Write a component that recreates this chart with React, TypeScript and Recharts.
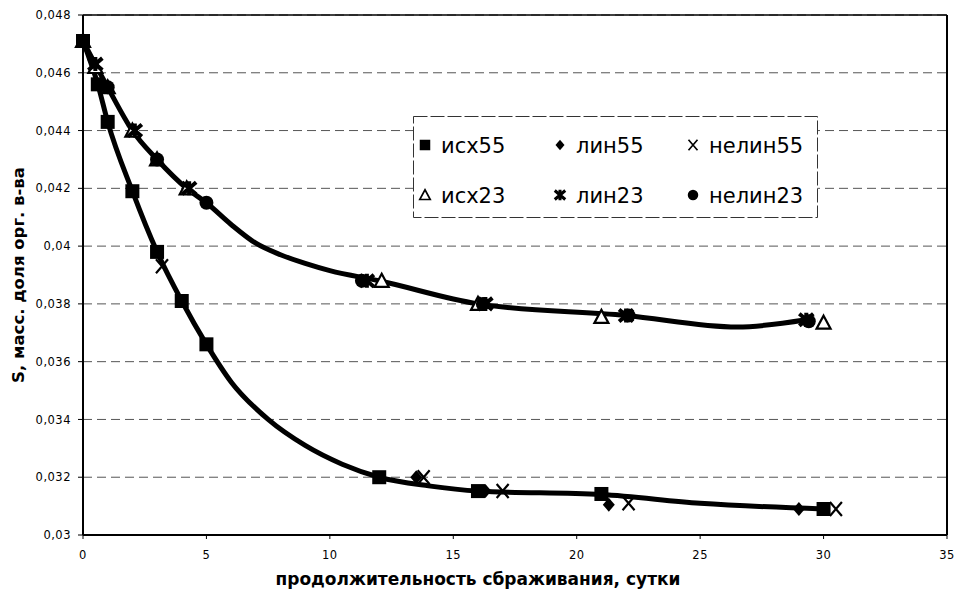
import { CartesianGrid, ComposedChart, Label, Legend, Line, ReferenceLine, Scatter, XAxis, YAxis } from 'recharts'

// исходные данные и расчётные точки
const iskh55 = [
  { x: 0, y: 0.0471 }, { x: 0.6, y: 0.0456 }, { x: 1.0, y: 0.0443 }, { x: 2.0, y: 0.0419 },
  { x: 3.0, y: 0.0398 }, { x: 4.0, y: 0.0381 }, { x: 5.0, y: 0.0366 }, { x: 12.0, y: 0.0320 },
  { x: 16.0, y: 0.03152 }, { x: 21.0, y: 0.03142 }, { x: 30.0, y: 0.0309 },
]
const lin55 = [
  { x: 13.5, y: 0.0320 }, { x: 16.3, y: 0.03152 }, { x: 21.3, y: 0.03105 }, { x: 29.0, y: 0.0309 },
]
const nelin55 = [
  { x: 3.2, y: 0.0393 }, { x: 13.8, y: 0.0320 }, { x: 17.0, y: 0.03152 }, { x: 22.1, y: 0.0311 }, { x: 30.5, y: 0.0309 },
]
const iskh23 = [
  { x: 0, y: 0.0471 }, { x: 0.5, y: 0.0462 }, { x: 1.0, y: 0.0455 }, { x: 2.0, y: 0.0440 },
  { x: 3.0, y: 0.0430 }, { x: 4.2, y: 0.0420 }, { x: 12.1, y: 0.0388 }, { x: 16.0, y: 0.0380 },
  { x: 21.0, y: 0.03755 }, { x: 30.0, y: 0.03735 },
]
const lin23 = [
  { x: 0.5, y: 0.0463 }, { x: 2.1, y: 0.0440 }, { x: 4.3, y: 0.0420 }, { x: 11.5, y: 0.0388 },
  { x: 16.3, y: 0.0380 }, { x: 22.0, y: 0.0376 }, { x: 29.3, y: 0.03745 },
]
const nelin23 = [
  { x: 1.0, y: 0.0455 }, { x: 3.0, y: 0.0430 }, { x: 5.0, y: 0.0415 }, { x: 11.3, y: 0.0388 },
  { x: 16.2, y: 0.0380 }, { x: 22.1, y: 0.0376 }, { x: 29.4, y: 0.0374 },
]

// сглаженные кривые
const curve55 = [
  { x: 0, y: 0.0471 }, { x: 0.6, y: 0.0456 }, { x: 1.0, y: 0.0443 }, { x: 2.0, y: 0.0419 },
  { x: 3.0, y: 0.0398 }, { x: 4.0, y: 0.0381 }, { x: 5.0, y: 0.0366 }, { x: 6.0, y: 0.0353 },
  { x: 7.5, y: 0.0340 }, { x: 9.0, y: 0.0331 }, { x: 10.5, y: 0.03245 }, { x: 12.0, y: 0.0320 },
  { x: 14.0, y: 0.0317 }, { x: 16.0, y: 0.03152 }, { x: 21.0, y: 0.0314 }, { x: 25.0, y: 0.0311 },
  { x: 30.0, y: 0.0309 },
]
const curve23 = [
  { x: 0, y: 0.0471 }, { x: 1.0, y: 0.0455 }, { x: 2.0, y: 0.0440 }, { x: 3.0, y: 0.0430 },
  { x: 4.2, y: 0.0420 }, { x: 5.0, y: 0.0415 }, { x: 6.0, y: 0.04075 }, { x: 7.0, y: 0.0401 },
  { x: 8.0, y: 0.0397 }, { x: 9.0, y: 0.0394 }, { x: 10.0, y: 0.03915 }, { x: 12.0, y: 0.0388 },
  { x: 16.0, y: 0.0380 }, { x: 22.0, y: 0.0376 }, { x: 26.5, y: 0.0372 }, { x: 29.3, y: 0.03745 },
]

const xTicks = [0, 5, 10, 15, 20, 25, 30, 35]
const yTicks = [0.03, 0.032, 0.034, 0.036, 0.038, 0.04, 0.042, 0.044, 0.046, 0.048]

const FONT = '"DejaVu Sans", sans-serif'
const fmt = (v: number) => String(v).replace('.', ',')

type P = { cx?: number; cy?: number }

const Square = ({ cx = 0, cy = 0 }: P) => <rect x={cx - 7} y={cy - 7} width={14} height={14} fill="#000" />
const Diamond = ({ cx = 0, cy = 0 }: P) => <path d={`M${cx},${cy - 7}L${cx + 6},${cy}L${cx},${cy + 7}L${cx - 6},${cy}Z`} fill="#000" />
const Cross = ({ cx = 0, cy = 0 }: P) => (
  <path d={`M${cx - 6},${cy - 7}L${cx + 6},${cy + 7}M${cx + 6},${cy - 7}L${cx - 6},${cy + 7}`} stroke="#000" strokeWidth={2.2} />
)
const Triangle = ({ cx = 0, cy = 0 }: P) => (
  <path d={`M${cx},${cy - 7}L${cx + 7},${cy + 6}L${cx - 7},${cy + 6}Z`} fill="#fff" stroke="#000" strokeWidth={2.2} />
)
const Star = ({ cx = 0, cy = 0 }: P) => (
  <path d={`M${cx},${cy - 7}L${cx},${cy + 7}M${cx - 7},${cy - 6}L${cx + 7},${cy + 6}M${cx + 7},${cy - 6}L${cx - 7},${cy + 6}`} stroke="#000" strokeWidth={4} />
)
const Dot = ({ cx = 0, cy = 0 }: P) => <circle cx={cx} cy={cy} r={7} fill="#000" />

const legendItems = [
  { name: 'исх55', Shape: Square, col: 0, row: 0 },
  { name: 'лин55', Shape: Diamond, col: 1, row: 0 },
  { name: 'нелин55', Shape: Cross, col: 2, row: 0 },
  { name: 'исх23', Shape: Triangle, col: 0, row: 1 },
  { name: 'лин23', Shape: Star, col: 1, row: 1 },
  { name: 'нелин23', Shape: Dot, col: 2, row: 1 },
]
const colX = [12, 147, 280]
const rowY = [29, 79]

function LegendBox() {
  return (
    <svg width={405} height={102} style={{ display: 'block' }}>
      <rect x={0.5} y={0.5} width={404} height={101} fill="#fff" stroke="#333" strokeDasharray="14 3" />
      {legendItems.map(({ name, Shape, col, row }) => (
        <g key={name}>
          <g transform="scale(0.75)" style={{ transformOrigin: `${colX[col]}px ${rowY[row]}px` }}>
            <Shape cx={colX[col]} cy={rowY[row]} />
          </g>
          <text x={colX[col] + 16} y={rowY[row] + 8} fontSize={21} fontFamily={FONT} fill="#000">{name}</text>
        </g>
      ))}
    </svg>
  )
}

export default function App() {
  return (
    <div style={{ position: 'absolute', left: 0, top: 0, width: 960, height: 589, background: '#fff' }}>
      <ComposedChart width={960} height={589} margin={{ top: 15, right: 13, bottom: 0, left: 0 }}>
        <CartesianGrid horizontal vertical={false} stroke="#555" strokeDasharray="9 5" />
        <XAxis
          type="number" dataKey="x" domain={[0, 35]} ticks={xTicks} height={54}
          tick={{ fontSize: 11.5, fontFamily: FONT, fill: '#000', letterSpacing: 0.5 }}
          tickSize={4} tickMargin={12} axisLine={{ stroke: '#000', strokeWidth: 2 }} tickLine={{ stroke: '#000' }}
        >
          <Label value="продолжительность сбраживания, сутки" position="insideBottom" offset={4} dx={-37}
            style={{ fontSize: 17, fontWeight: 'bold', fontFamily: FONT, fill: '#000' }} />
        </XAxis>
        <YAxis
          type="number" dataKey="y" domain={[0.03, 0.048]} ticks={yTicks} width={83}
          tickFormatter={fmt} allowDataOverflow
          tick={{ fontSize: 11.5, fontFamily: FONT, fill: '#000', letterSpacing: 0.5 }}
          tickSize={5} tickMargin={7} axisLine={{ stroke: '#000', strokeWidth: 2 }} tickLine={{ stroke: '#000' }}
        >
          <Label value="S, масс. доля орг. в-ва" angle={-90} position="insideLeft" offset={18}
            style={{ fontSize: 16.5, fontWeight: 'bold', fontFamily: FONT, fill: '#000', textAnchor: 'middle' }} />
        </YAxis>
        <ReferenceLine x={35} stroke="#000" strokeWidth={2} />
        <ReferenceLine y={0.048} stroke="#000" strokeWidth={1.5} />
        <Line data={curve23} dataKey="y" type="monotone" stroke="#000" strokeWidth={5} dot={false} isAnimationActive={false} legendType="none" />
        <Line data={curve55} dataKey="y" type="monotone" stroke="#000" strokeWidth={5} dot={false} isAnimationActive={false} legendType="none" />
        <Scatter name="исх23" data={iskh23} shape={<Triangle />} isAnimationActive={false} />
        <Scatter name="лин23" data={lin23} shape={<Star />} isAnimationActive={false} />
        <Scatter name="нелин23" data={nelin23} shape={<Dot />} isAnimationActive={false} />
        <Scatter name="лин55" data={lin55} shape={<Diamond />} isAnimationActive={false} />
        <Scatter name="нелин55" data={nelin55} shape={<Cross />} isAnimationActive={false} />
        <Scatter name="исх55" data={iskh55} shape={<Square />} isAnimationActive={false} />
        <Legend
          layout="horizontal" verticalAlign="middle" align="center"
          content={() => <LegendBox />}
          wrapperStyle={{ position: 'absolute', left: 413, top: 116, width: 405, height: 102 }}
        />
      </ComposedChart>
    </div>
  )
}
